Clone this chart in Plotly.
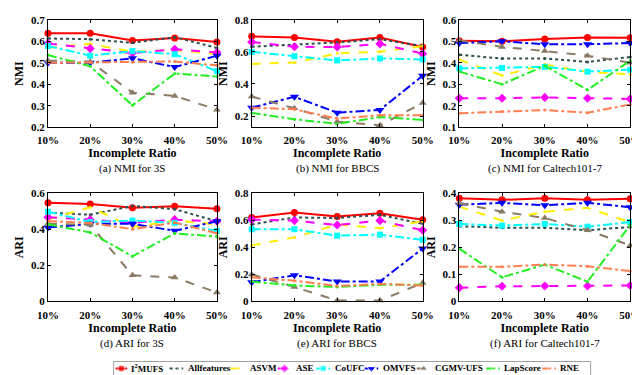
import plotly.graph_objects as go

ratios = [10, 20, 30, 40, 50]
ratio_labels = ["10%", "20%", "30%", "40%", "50%"]

methods = ["I<sup>2</sup>MUFS", "Allfeatures", "ASVM", "ASE", "CoUFC", "OMVFS", "CGMV-UFS", "LapScore", "RNE"]

# (a) NMI for 3S
nmi_3s = {
    "I<sup>2</sup>MUFS": [0.637, 0.637, 0.604, 0.615, 0.597],
    "Allfeatures": [0.613, 0.610, 0.593, 0.619, 0.569],
    "ASVM": [0.570, 0.588, 0.551, 0.560, 0.540],
    "ASE": [0.590, 0.566, 0.545, 0.563, 0.548],
    "CoUFC": [0.578, 0.533, 0.554, 0.540, 0.461],
    "OMVFS": [0.500, 0.500, 0.521, 0.480, 0.533],
    "CGMV-UFS": [0.510, 0.505, 0.361, 0.346, 0.282],
    "LapScore": [0.536, 0.484, 0.302, 0.450, 0.436],
    "RNE": [0.500, 0.503, 0.503, 0.506, 0.488],
}
# (b) NMI for BBCS
nmi_bbcs = {
    "I<sup>2</sup>MUFS": [0.697, 0.690, 0.663, 0.690, 0.630],
    "Allfeatures": [0.632, 0.646, 0.659, 0.679, 0.636],
    "ASVM": [0.525, 0.533, 0.591, 0.601, 0.636],
    "ASE": [0.661, 0.632, 0.630, 0.650, 0.589],
    "CoUFC": [0.600, 0.573, 0.547, 0.559, 0.553],
    "OMVFS": [0.252, 0.320, 0.221, 0.238, 0.451],
    "CGMV-UFS": [0.322, 0.248, 0.165, 0.142, 0.281],
    "LapScore": [0.219, 0.180, 0.151, 0.194, 0.176],
    "RNE": [0.252, 0.242, 0.184, 0.205, 0.205],
}
# (c) NMI for Caltech101-7
nmi_caltech = {
    "I<sup>2</sup>MUFS": [0.502, 0.500, 0.511, 0.518, 0.517],
    "Allfeatures": [0.437, 0.420, 0.420, 0.404, 0.427],
    "ASVM": [0.415, 0.341, 0.392, 0.357, 0.347],
    "ASE": [0.235, 0.235, 0.239, 0.235, 0.232],
    "CoUFC": [0.374, 0.376, 0.381, 0.359, 0.368],
    "OMVFS": [0.492, 0.500, 0.486, 0.486, 0.492],
    "CGMV-UFS": [0.504, 0.474, 0.455, 0.433, 0.400],
    "LapScore": [0.359, 0.300, 0.386, 0.274, 0.410],
    "RNE": [0.165, 0.173, 0.180, 0.168, 0.206],
}
# (d) ARI for 3S
ari_3s = {
    "I<sup>2</sup>MUFS": [0.547, 0.540, 0.519, 0.527, 0.513],
    "Allfeatures": [0.492, 0.480, 0.529, 0.511, 0.444],
    "ASVM": [0.453, 0.522, 0.412, 0.448, 0.427],
    "ASE": [0.466, 0.453, 0.435, 0.453, 0.444],
    "CoUFC": [0.497, 0.440, 0.448, 0.435, 0.391],
    "OMVFS": [0.409, 0.430, 0.430, 0.391, 0.444],
    "CGMV-UFS": [0.430, 0.425, 0.145, 0.133, 0.050],
    "LapScore": [0.427, 0.382, 0.250, 0.377, 0.359],
    "RNE": [0.444, 0.435, 0.400, 0.437, 0.377],
}
# (e) ARI for BBCS
ari_bbcs = {
    "I<sup>2</sup>MUFS": [0.620, 0.656, 0.627, 0.651, 0.604],
    "Allfeatures": [0.569, 0.620, 0.616, 0.640, 0.573],
    "ASVM": [0.414, 0.473, 0.569, 0.540, 0.592],
    "ASE": [0.604, 0.597, 0.564, 0.597, 0.526],
    "CoUFC": [0.533, 0.533, 0.486, 0.493, 0.455],
    "OMVFS": [0.142, 0.194, 0.147, 0.147, 0.391],
    "CGMV-UFS": [0.200, 0.107, 0.007, 0.007, 0.137],
    "LapScore": [0.147, 0.118, 0.107, 0.123, 0.123],
    "RNE": [0.178, 0.154, 0.114, 0.130, 0.118],
}
# (f) ARI for Caltech101-7
ari_caltech = {
    "I<sup>2</sup>MUFS": [0.381, 0.375, 0.381, 0.375, 0.379],
    "Allfeatures": [0.278, 0.272, 0.272, 0.263, 0.275],
    "ASVM": [0.350, 0.299, 0.331, 0.346, 0.292],
    "ASE": [0.051, 0.056, 0.057, 0.057, 0.059],
    "CoUFC": [0.286, 0.280, 0.286, 0.276, 0.293],
    "OMVFS": [0.357, 0.364, 0.355, 0.364, 0.348],
    "CGMV-UFS": [0.363, 0.331, 0.308, 0.263, 0.207],
    "LapScore": [0.195, 0.089, 0.136, 0.073, 0.282],
    "RNE": [0.128, 0.128, 0.136, 0.130, 0.112],
}

panels = [
    (nmi_3s, "NMI", [0.2, 0.7], [0.2, 0.3, 0.4, 0.5, 0.6, 0.7], "(a) NMI for 3S"),
    (nmi_bbcs, "NMI", [0.13, 0.8], [0.2, 0.4, 0.6, 0.8], "(b) NMI for BBCS"),
    (nmi_caltech, "NMI", [0.1, 0.6], [0.1, 0.2, 0.3, 0.4, 0.5, 0.6], "(c) NMI for Caltech101-7"),
    (ari_3s, "ARI", [0, 0.6], [0, 0.2, 0.4, 0.6], "(d) ARI for 3S"),
    (ari_bbcs, "ARI", [0, 0.8], [0, 0.2, 0.4, 0.6, 0.8], "(e) ARI for BBCS"),
    (ari_caltech, "ARI", [0, 0.4], [0, 0.1, 0.2, 0.3, 0.4], "(f) ARI for Caltech101-7"),
]

styles = {
    "I<sup>2</sup>MUFS": dict(color="#FF0000", dash="solid", symbol="circle", size=7),
    "Allfeatures": dict(color="#2F4F4F", dash="dot", symbol="circle", size=3),
    "ASVM": dict(color="#FFEE00", dash="dash", symbol="circle", size=3),
    "ASE": dict(color="#FF00FF", dash="dash", symbol="diamond", size=7),
    "CoUFC": dict(color="#00FFFF", dash="dashdot", symbol="square", size=6),
    "OMVFS": dict(color="#0000FF", dash="dashdot", symbol="triangle-down", size=8),
    "CGMV-UFS": dict(color="#8C7B64", dash="dash", symbol="triangle-up", size=7),
    "LapScore": dict(color="#22EE22", dash="dashdot", symbol="circle", size=3),
    "RNE": dict(color="#FF7F50", dash="dashdot", symbol="circle", size=3),
}

W, H = 640, 375
xdoms = [(30, 205), (241, 418), (456, 633)]
ydoms = [(6, 117), (185, 297)]

# legend layout (pixel positions of key start / key end / text start)
legend_box = (98, 592, 359, 375)
legend_keys = [(100, 112, 114), (156, 170, 173), (219, 231, 237), (268, 282, 285),
               (308, 322, 325), (358, 372, 375), (412, 426, 429), (484, 498, 500),
               (542, 556, 558)]

SERIF = "Liberation Serif"
fig = go.Figure()
for i, (data, ylab, yr, yt, cap) in enumerate(panels):
    r, c = divmod(i, 3)
    n = i + 1
    xa = "x" if n == 1 else f"x{n}"
    ya = "y" if n == 1 else f"y{n}"
    for m in methods:
        s = styles[m]
        fig.add_trace(go.Scatter(
            x=ratios, y=data[m], mode="lines+markers", name=m,
            line=dict(color=s["color"], dash=s["dash"], width=2),
            marker=dict(symbol=s["symbol"], size=s["size"], color=s["color"]),
            xaxis=xa, yaxis=ya, showlegend=False, cliponaxis=False,
        ))
    x0, x1 = xdoms[c]
    y0, y1 = ydoms[r]
    axfont = dict(family=SERIF, size=11, color="black", weight="bold")
    fig.layout[("xaxis" if n == 1 else f"xaxis{n}")] = dict(
        domain=[x0 / W, x1 / W], anchor=ya, range=[10, 50],
        tickvals=ratios, ticktext=ratio_labels, tickfont=axfont, ticklabelstandoff=3,
        showline=True, mirror="ticks", linecolor="black", linewidth=1,
        ticks="inside", ticklen=3, tickcolor="black", showgrid=False, zeroline=False,
        title=dict(text="Incomplete Ratio", font=dict(family=SERIF, size=12, color="black", weight="bold"), standoff=3),
    )
    fig.layout[("yaxis" if n == 1 else f"yaxis{n}")] = dict(
        domain=[1 - y1 / H, 1 - y0 / H], anchor=xa, range=yr,
        tickvals=yt, ticktext=[("0" if v == 0 else f"{v:g}") for v in yt], tickfont=axfont,
        showline=True, mirror="ticks", linecolor="black", linewidth=1,
        ticks="inside", ticklen=3, tickcolor="black", showgrid=False, zeroline=False,
        title=dict(text=ylab, font=dict(family=SERIF, size=12, color="black", weight="bold"), standoff=4),
    )
    fig.add_annotation(
        text=cap, xref="paper", yref="paper",
        x=(x0 + x1) / 2 / W, y=1 - (y1 + 43) / H, showarrow=False,
        font=dict(family=SERIF, size=11, color="black"), xanchor="center", yanchor="middle",
    )

# Legend drawn on an invisible pixel-scaled axis
lx0, lx1, ly0, ly1 = legend_box
fig.layout["xaxis7"] = dict(domain=[0, 1], range=[0, W], anchor="y7", visible=False, fixedrange=True)
fig.layout["yaxis7"] = dict(domain=[1 - ly1 / H, 1 - ly0 / H], range=[0, 1], anchor="x7", visible=False, fixedrange=True)
fig.add_shape(type="rect", xref="paper", yref="paper",
              x0=lx0 / W, x1=lx1 / W, y0=1 - (ly1 - 0.5) / H, y1=1 - ly0 / H,
              line=dict(color="#A0A0A0", width=1), fillcolor="white", layer="below")
for m, (k0, k1, t0) in zip(methods, legend_keys):
    s = styles[m]
    fig.add_trace(go.Scatter(
        x=[k0, (k0 + k1) / 2, k1], y=[0.55, 0.55, 0.55], mode="lines+markers",
        line=dict(color=s["color"], dash="solid" if s["dash"] == "solid" else s["dash"], width=2),
        marker=dict(symbol=s["symbol"], size=[0, s["size"], 0], color=s["color"]),
        xaxis="x7", yaxis="y7", showlegend=False, cliponaxis=False, hoverinfo="skip",
    ))
    fig.add_annotation(
        text=m, xref="x7", yref="y7", x=t0, y=0.55, showarrow=False,
        xanchor="left", yanchor="middle",
        font=dict(family=SERIF, size=9, color="black", weight="bold"),
    )

fig.update_layout(
    width=W, height=H, margin=dict(l=0, r=0, t=0, b=0),
    paper_bgcolor="white", plot_bgcolor="white", showlegend=False,
)

fig.write_html("out.html")
